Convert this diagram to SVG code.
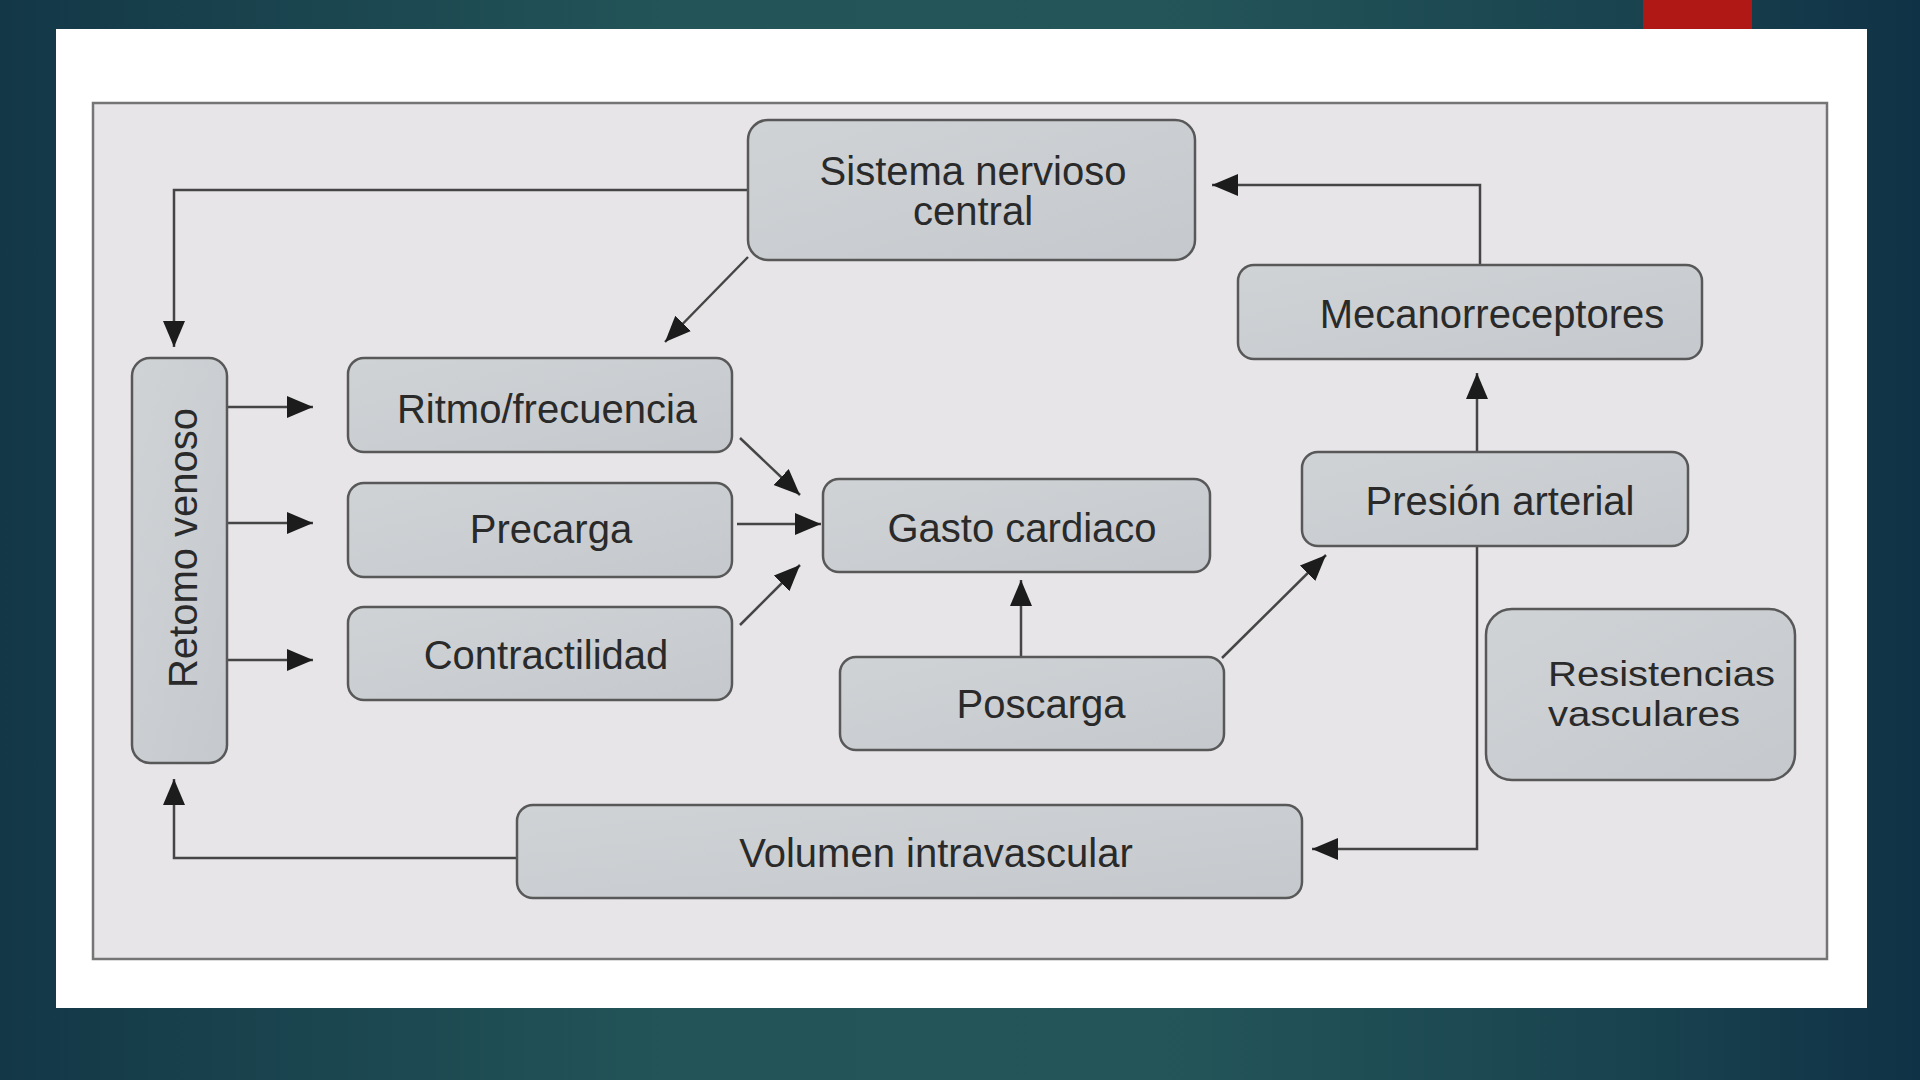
<svg xmlns="http://www.w3.org/2000/svg" width="1920" height="1080" viewBox="0 0 1920 1080">
  <defs>
    <linearGradient id="bg" x1="0" y1="0" x2="1" y2="0">
      <stop offset="0" stop-color="#133747"/>
      <stop offset="0.35" stop-color="#235558"/>
      <stop offset="0.6" stop-color="#245659"/>
      <stop offset="0.85" stop-color="#19434f"/>
      <stop offset="1" stop-color="#103246"/>
    </linearGradient>
    <linearGradient id="boxfill" x1="0" y1="0" x2="1" y2="1">
      <stop offset="0" stop-color="#d0d3d6"/>
      <stop offset="1" stop-color="#c5c9cd"/>
    </linearGradient>
    <marker id="ah" markerUnits="userSpaceOnUse" markerWidth="28" markerHeight="24" refX="26" refY="11" orient="auto">
      <path d="M0,0 L26,11 L0,22 Z" fill="#1c1c1c"/>
    </marker>
    <style>
      .box { fill: url(#boxfill); stroke: #585858; stroke-width: 2.5; }
      .lbl { font-family: "Liberation Sans", Arial, Helvetica, sans-serif; font-size: 40px; fill: #2a2a2a; text-anchor: middle; }
      .lbl2 { font-family: "Liberation Sans", Arial, Helvetica, sans-serif; font-size: 35px; fill: #2a2a2a; text-anchor: start; }
      .conn { fill: none; stroke: #454545; stroke-width: 2.5; }
      .arr { marker-end: url(#ah); }
    </style>
  </defs>

  <!-- slide background -->
  <rect x="0" y="0" width="1920" height="1080" fill="url(#bg)"/>
  <rect x="1643" y="0" width="109" height="29" fill="#b01816"/>
  <rect x="56" y="29" width="1811" height="979" fill="#ffffff"/>

  <!-- diagram frame -->
  <rect x="93" y="103" width="1734" height="856" fill="#e7e5e8" stroke="#757575" stroke-width="2.5"/>

  <!-- connectors -->
  <g id="connectors">
    <path class="conn arr" d="M748,190 H174 V347"/>
    <path class="conn arr" d="M748,257 L665,342"/>
    <path class="conn arr" d="M1480,265 V185 H1212"/>
    <path class="conn arr" d="M1477,452 V373"/>
    <path class="conn arr" d="M1477,546 V849 H1312"/>
    <path class="conn arr" d="M517,858 H174 V779"/>
    <path class="conn arr" d="M227,407 H313"/>
    <path class="conn arr" d="M227,523 H313"/>
    <path class="conn arr" d="M227,660 H313"/>
    <path class="conn arr" d="M740,438 L800,495"/>
    <path class="conn arr" d="M737,524 H821"/>
    <path class="conn arr" d="M740,625 L800,565"/>
    <path class="conn arr" d="M1021,657 V580"/>
    <path class="conn arr" d="M1222,658 L1326,555"/>
  </g>

  <g id="sistema-nervioso-central">
    <rect class="box" x="748" y="120" width="447" height="140" rx="20"/>
    <text class="lbl" x="973" y="185">Sistema nervioso</text>
    <text class="lbl" x="973" y="225">central</text>
  </g>

  <g id="mecanorreceptores">
    <rect class="box" x="1238" y="265" width="464" height="94" rx="16"/>
    <text class="lbl" x="1492" y="328">Mecanorreceptores</text>
  </g>

  <g id="retorno-venoso">
    <rect class="box" x="132" y="358" width="95" height="405" rx="18"/>
    <text class="lbl" transform="translate(197,548) rotate(-90)" x="0" y="0">Retomo venoso</text>
  </g>

  <g id="ritmo-frecuencia">
    <rect class="box" x="348" y="358" width="384" height="94" rx="16"/>
    <text class="lbl" x="547" y="423">Ritmo/frecuencia</text>
  </g>

  <g id="precarga">
    <rect class="box" x="348" y="483" width="384" height="94" rx="16"/>
    <text class="lbl" x="551" y="543">Precarga</text>
  </g>

  <g id="contractilidad">
    <rect class="box" x="348" y="607" width="384" height="93" rx="16"/>
    <text class="lbl" x="546" y="669">Contractilidad</text>
  </g>

  <g id="gasto-cardiaco">
    <rect class="box" x="823" y="479" width="387" height="93" rx="16"/>
    <text class="lbl" x="1022" y="542">Gasto cardiaco</text>
  </g>

  <g id="presion-arterial">
    <rect class="box" x="1302" y="452" width="386" height="94" rx="16"/>
    <text class="lbl" x="1500" y="515">Presión arterial</text>
  </g>

  <g id="poscarga">
    <rect class="box" x="840" y="657" width="384" height="93" rx="16"/>
    <text class="lbl" x="1041" y="718">Poscarga</text>
  </g>

  <g id="resistencias-vasculares">
    <rect class="box" x="1486" y="609" width="309" height="171" rx="26"/>
    <text class="lbl2" x="1548" y="686" textLength="227" lengthAdjust="spacingAndGlyphs">Resistencias</text>
    <text class="lbl2" x="1548" y="726" textLength="192" lengthAdjust="spacingAndGlyphs">vasculares</text>
  </g>

  <g id="volumen-intravascular">
    <rect class="box" x="517" y="805" width="785" height="93" rx="16"/>
    <text class="lbl" x="936" y="867">Volumen intravascular</text>
  </g>
</svg>
